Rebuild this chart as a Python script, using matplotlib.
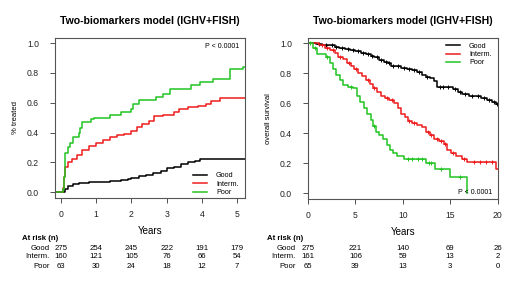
import matplotlib
matplotlib.use("Agg")
import matplotlib.pyplot as plt
import numpy as np

plt.rcParams['font.family'] = ['Liberation Sans', 'DejaVu Sans']

title = "Two-biomarkers model (IGHV+FISH)"
groups = ["Good", "Interm.", "Poor"]
colors = ["#000000", "#ee1c1c", "#22c322"]

# ---- left panel: time to treatment (cumulative incidence)
tt_good_t = [0, 0.1, 0.2, 0.35, 0.5, 0.8, 1.1, 1.4, 1.7, 1.9, 2.0, 2.2, 2.4, 2.6, 2.85, 3.0, 3.2, 3.4, 3.6, 3.8, 3.95, 4.5]
tt_good_v = [0, 0.02, 0.04, 0.055, 0.06, 0.065, 0.07, 0.075, 0.08, 0.09, 0.095, 0.105, 0.115, 0.13, 0.14, 0.16, 0.17, 0.19, 0.2, 0.21, 0.22, 0.225]
tt_int_t = [0, 0.05, 0.08, 0.12, 0.2, 0.3, 0.45, 0.6, 0.8, 1.0, 1.2, 1.4, 1.6, 1.8, 2.0, 2.15, 2.3, 2.5, 2.65, 2.9, 3.2, 3.35, 3.6, 3.9, 4.1, 4.25, 4.5]
tt_int_v = [0, 0.03, 0.1, 0.17, 0.2, 0.22, 0.25, 0.28, 0.31, 0.33, 0.35, 0.37, 0.38, 0.39, 0.41, 0.44, 0.46, 0.48, 0.51, 0.52, 0.54, 0.56, 0.57, 0.58, 0.59, 0.61, 0.63]
tt_poor_t = [0, 0.05, 0.08, 0.1, 0.12, 0.2, 0.25, 0.35, 0.5, 0.55, 0.6, 0.85, 0.95, 1.4, 1.7, 2.0, 2.05, 2.2, 2.7, 2.9, 3.1, 3.7, 3.95, 4.3, 4.8, 5.15]
tt_poor_v = [0, 0.02, 0.1, 0.2, 0.26, 0.3, 0.33, 0.37, 0.4, 0.43, 0.47, 0.49, 0.5, 0.52, 0.54, 0.56, 0.59, 0.62, 0.64, 0.66, 0.69, 0.72, 0.74, 0.76, 0.83, 0.84]
tt_years = [0, 1, 2, 3, 4, 5]
tt_risk = [[275, 254, 245, 222, 191, 179],
           [160, 121, 105, 76, 66, 54],
           [63, 30, 24, 18, 12, 7]]

# ---- right panel: overall survival
os_good_t = [0, 0.8, 1.5, 2.2, 2.8, 3.3, 3.9, 4.4, 5.0, 5.6, 6.1, 6.6, 7.0, 7.5, 8.0, 8.4, 8.8, 9.3, 9.8, 10.4, 11.0, 11.5, 12.0, 12.4, 12.9, 13.3, 13.6, 14.4, 15.3, 15.8, 16.3, 17.0, 17.6, 18.3, 18.9, 19.4, 19.8]
os_good_v = [1.0, 0.995, 0.99, 0.985, 0.975, 0.97, 0.96, 0.955, 0.945, 0.935, 0.925, 0.915, 0.905, 0.89, 0.875, 0.865, 0.85, 0.845, 0.835, 0.83, 0.82, 0.805, 0.79, 0.775, 0.765, 0.75, 0.71, 0.705, 0.695, 0.675, 0.66, 0.65, 0.645, 0.635, 0.62, 0.605, 0.595]
os_int_t = [0, 1.2, 1.8, 2.3, 2.8, 3.2, 3.7, 4.1, 4.5, 4.9, 5.3, 5.7, 6.1, 6.5, 6.9, 7.3, 7.7, 8.1, 8.6, 9.1, 9.5, 9.8, 10.2, 10.6, 11.0, 11.5, 12.0, 12.5, 12.9, 13.3, 13.8, 14.3, 14.7, 15.1, 15.6, 16.2, 16.8, 19.8]
os_int_v = [1.0, 0.985, 0.97, 0.955, 0.935, 0.91, 0.895, 0.87, 0.85, 0.825, 0.8, 0.78, 0.755, 0.73, 0.7, 0.675, 0.65, 0.635, 0.62, 0.6, 0.57, 0.53, 0.505, 0.48, 0.47, 0.455, 0.44, 0.41, 0.385, 0.36, 0.345, 0.33, 0.29, 0.27, 0.245, 0.225, 0.21, 0.16]
os_poor_t = [0, 0.5, 1.0, 1.9, 2.3, 2.6, 3.0, 3.4, 3.7, 4.2, 4.8, 5.2, 5.5, 5.9, 6.2, 6.6, 6.9, 7.2, 7.5, 7.9, 8.3, 8.7, 9.0, 9.4, 10.1, 12.4, 13.4, 15.0, 16.75]
os_poor_v = [1.0, 0.97, 0.93, 0.91, 0.87, 0.83, 0.79, 0.755, 0.72, 0.71, 0.7, 0.65, 0.61, 0.57, 0.53, 0.49, 0.45, 0.41, 0.39, 0.36, 0.32, 0.29, 0.27, 0.245, 0.225, 0.2, 0.16, 0.11, 0.0]
os_good_cens = [1.2, 1.9, 2.5, 3.0, 3.6, 4.2, 4.7, 5.3, 5.8, 6.3, 6.8, 7.3, 7.7, 8.2, 8.6, 9.0, 9.5, 10.1, 10.7, 11.2, 11.7, 12.6, 13.9, 14.2, 14.8, 15.5, 16.0, 16.6, 17.3, 17.9, 18.6, 19.1, 19.6, 19.9]
os_int_cens = [1.5, 2.0, 2.6, 3.4, 4.3, 5.1, 6.3, 7.0, 8.3, 8.9, 10.7, 11.2, 12.7, 13.0, 13.6, 14.0, 14.5, 15.3, 16.5, 17.5, 18.2, 18.8, 19.4]
os_poor_cens = [0.2, 0.7, 2.0, 4.5, 7.0, 10.5, 11.0, 11.6, 12.0, 12.8, 13.0, 14.0, 16.0]
os_years = [0, 5, 10, 15, 20]
os_risk = [[275, 221, 140, 69, 26],
           [161, 106, 59, 13, 2],
           [65, 39, 13, 3, 0]]

W, H = 520, 282
fig = plt.figure(figsize=(W / 100, H / 100), dpi=100)


def box(l, t, r, b):
    return [l / W, 1 - b / H, (r - l) / W, (b - t) / H]


def value_at(times, vals, t):
    i = np.searchsorted(times, t, side='right') - 1
    return vals[i]


def style(ax, xlim, xticks, ylabel):
    ax.set_xlim(*xlim)
    ax.set_ylim(-0.04, 1.035)
    ax.set_xticks(xticks)
    ax.set_yticks([0, 0.2, 0.4, 0.6, 0.8, 1.0])
    ax.set_yticklabels(["0.0", "0.2", "0.4", "0.6", "0.8", "1.0"])
    ax.tick_params(labelsize=6.2, length=3.5, width=0.6, pad=5, colors="#333333", labelcolor="#222222")
    ax.tick_params(axis='y', pad=8)
    for s in ax.spines.values():
        s.set_linewidth(0.8)
        s.set_color("#555555")
    ax.set_title(title, fontsize=7.6, fontweight='bold', pad=10)
    ax.set_xlabel("Years", fontsize=7, labelpad=5)
    ax.set_ylabel(ylabel, fontsize=5.5, labelpad=6)


# left panel
ax1 = fig.add_axes(box(55, 38, 245, 198))
style(ax1, (-0.17, 5.22), tt_years, "% treated")
left_curves = [(tt_good_t, tt_good_v), (tt_int_t, tt_int_v), (tt_poor_t, tt_poor_v)]
for (t, v), c, g in zip(left_curves, colors, groups):
    tx = [-0.15] + t + [5.22]
    vx = [0] + v + [v[-1]]
    ax1.step(tx, vx, where='post', color=c, lw=1.1, label=g)
ax1.legend(loc='lower right', fontsize=5.2, frameon=False, handlelength=2.0,
           labelspacing=0.2, bbox_to_anchor=(1.0, -0.03), handletextpad=1.2)
ax1.text(0.97, 0.95, "P < 0.0001", transform=ax1.transAxes, fontsize=5, ha='right', va='center')

# right panel
ax2 = fig.add_axes(box(308, 38, 498, 199))
style(ax2, (0, 20.05), os_years, "overall survival")
right_curves = [(os_good_t, os_good_v, os_good_cens), (os_int_t, os_int_v, os_int_cens),
                (os_poor_t, os_poor_v, os_poor_cens)]
for (t, v, cens), c, g in zip(right_curves, colors, groups):
    tx = t + [20]
    vx = v + [v[-1]]
    if g == "Poor":
        tx, vx = t, v
    ax2.step(tx, vx, where='post', color=c, lw=1.1, label=g)
    cy = [value_at(t, v, x) for x in cens]
    ax2.plot(cens, cy, ls='none', marker='+', ms=3.5, mew=0.7, color=c)
ax2.legend(loc='upper right', fontsize=5.2, frameon=False, handlelength=2.0,
           labelspacing=0.15, bbox_to_anchor=(1.0, 1.01), handletextpad=1.2)
ax2.text(0.97, 0.04, "P < 0.0001", transform=ax2.transAxes, fontsize=5, ha='right', va='center')


# at risk tables
def at_risk(ax, years, risk, label_x, head_x):
    fig.text(head_x / W, 1 - 238 / H, "At risk (n)", fontsize=5.6, fontweight='bold', va='center')
    rows_y = [248, 257, 266]
    for g, row, y in zip(groups, risk, rows_y):
        fy = 1 - y / H
        fig.text(label_x / W, fy, g, fontsize=5.6, ha='right', va='center')
        for yr, n in zip(years, row):
            xd = ax.transData.transform((yr, 0))[0]
            fig.text(xd / W, fy, str(n), fontsize=5.6, ha='center', va='center')


at_risk(ax1, tt_years, tt_risk, 50, 22)
at_risk(ax2, os_years, os_risk, 296, 267)

fig.savefig("out.png", dpi=100)
